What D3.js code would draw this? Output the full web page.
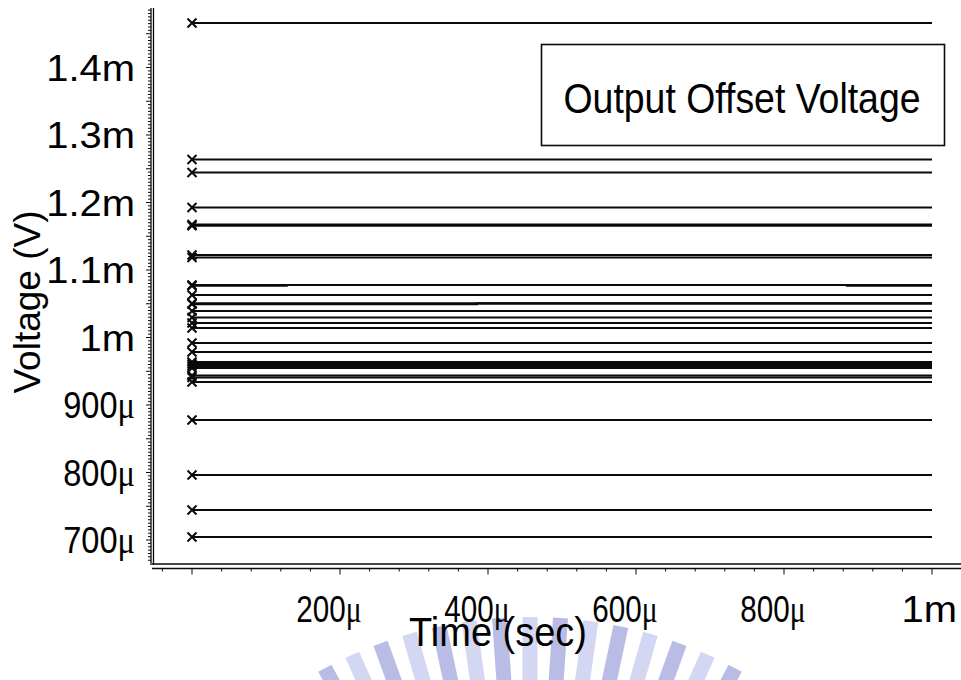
<!DOCTYPE html>
<html><head><meta charset="utf-8">
<script src="https://cdn.jsdelivr.net/npm/d3@7"></script>
<style>body{margin:0;background:#fff} svg{display:block}</style>
</head><body><svg id="c" width="961" height="680"></svg>
<script>
// ---------- data ----------
const timeTickValues = [200e-6, 400e-6, 600e-6, 800e-6, 1e-3];
const timeTickLabels = ["200μ", "400μ", "600μ", "800μ", "1m"];
const voltTickValues = [700e-6, 800e-6, 900e-6, 1.0e-3, 1.1e-3, 1.2e-3, 1.3e-3, 1.4e-3];
const voltTickLabels = ["700μ", "800μ", "900μ", "1m", "1.1m", "1.2m", "1.3m", "1.4m"];
// constant output offsets of the Monte Carlo runs (μV)
const flatOffsets = [1465.9, 1263.7, 1244.4, 1192.6, 1167.4, 1165.6, 1122.2, 1118.5,
  1077.8, 1063.0, 1050.6, 1039.3, 1029.6, 1021.5, 1014.1, 991.9, 978.5,
  963.7, 960.7, 957.8, 954.8, 943.7, 940.7, 934.1, 877.8, 796.3, 744.4, 704.4];
// runs with a small step (time in μs, value in μV)
const stepTimesA = [0, 128, 128, 885, 885, 1000];
const stepValuesA = [1076.6, 1076.6, 1077.8, 1077.8, 1076.8, 1076.8];
const stepTimesB = [0, 385, 385, 1000];
const stepValuesB = [1049.4, 1049.4, 1050.6, 1050.6];
const tStart = 0, tEnd = 1000; // μs
const legendText = "Output Offset Voltage";

// ---------- build series ----------
const series = flatOffsets.map(v => [[tStart * 1e-6, v * 1e-6], [tEnd * 1e-6, v * 1e-6]]);
series.push(stepTimesA.map((t, i) => [t * 1e-6, stepValuesA[i] * 1e-6]));
series.push(stepTimesB.map((t, i) => [t * 1e-6, stepValuesB[i] * 1e-6]));

const svg = d3.select("#c");
const x = d3.scaleLinear().domain([0, 1e-3]).range([192, 932]);
const y = d3.scaleLinear().domain([700e-6, 1.4e-3]).range([540, 67.5]);

const ink = "#0a0a0a";
const sans = "'Liberation Sans', Arial, sans-serif";

// ---------- watermark ----------
const wm = svg.append("g");
const cx = 530, cy = 1054;
const angles = d3.range(-32, 33, 4.0);
angles.forEach((a, i) => {
  const w = 15;
  wm.append("rect")
    .attr("x", -w / 2).attr("y", -437).attr("width", w).attr("height", 80)
    .attr("fill", i % 2 ? "#b9bde6" : "#d4d7f1")
    .attr("transform", `translate(${cx},${cy}) rotate(${a})`);
});

// ---------- axes ----------
const yAxisX = 151;
const yTicksMinor = d3.range(670e-6, 1.49e-3, 5e-6);
const gy = svg.append("g");
gy.append("line").attr("x1", yAxisX).attr("x2", yAxisX).attr("y1", 8).attr("y2", 565)
  .attr("stroke", ink).attr("stroke-width", 1.3);
gy.append("line").attr("x1", yAxisX + 2.5).attr("x2", yAxisX + 2.5).attr("y1", 8).attr("y2", 565)
  .attr("stroke", ink).attr("stroke-width", 1.3);
gy.selectAll("line.t").data(yTicksMinor.filter(v => y(v) > 8 && y(v) < 563)).enter()
  .append("line").attr("class", "t")
  .attr("x1", yAxisX).attr("y1", d => y(d)).attr("y2", d => y(d))
  .attr("x2", d => {
    const k = Math.round(d * 1e6);
    return yAxisX - (k % 50 === 0 ? 5 : 3);
  })
  .attr("stroke", ink).attr("stroke-width", 1);

function muLabel(sel, label) {
  const parts = label.split("μ");
  sel.append("tspan").text(parts[0]);
  if (label.includes("μ")) sel.append("tspan").attr("font-family", "'Liberation Serif', serif").text("μ");
}
voltTickValues.forEach((v, i) => {
  const lab = voltTickLabels[i];
  const sx = lab.includes("μ") ? 0.88 : 1.08;
  const t = svg.append("text")
    .attr("transform", `translate(${yAxisX - 16},${y(v) + 13}) scale(${sx},1)`)
    .attr("text-anchor", "end").attr("font-family", sans).attr("font-size", 37).attr("fill", "#000");
  muLabel(t, lab);
});

// x axis (bottom)
const frameY = 564, xAxisY = 568.5;
svg.append("line").attr("x1", 152).attr("x2", 961).attr("y1", frameY).attr("y2", frameY)
  .attr("stroke", ink).attr("stroke-width", 1.3);
svg.append("line").attr("x1", 152).attr("x2", 961).attr("y1", xAxisY).attr("y2", xAxisY)
  .attr("stroke", ink).attr("stroke-width", 1.3);
const xTicks = d3.range(-40e-6, 1.04e-3, 40e-6);
svg.selectAll("line.xt").data(xTicks).enter().append("line").attr("class", "xt")
  .attr("x1", d => x(d)).attr("x2", d => x(d)).attr("y1", xAxisY)
  .attr("y2", d => xAxisY + (Math.round(d * 1e6) % 200 === 0 ? 6 : 3))
  .attr("stroke", ink).attr("stroke-width", 1);
timeTickValues.forEach((v, i) => {
  const lab = timeTickLabels[i];
  const isMu = lab.includes("μ");
  const t = svg.append("text")
    .attr("transform", `translate(${isMu ? x(v) - 11 : x(v) + 25},622) scale(${isMu ? 0.8 : 1.08},1)`)
    .attr("text-anchor", isMu ? "middle" : "end").attr("font-family", sans).attr("font-size", 37).attr("fill", "#000");
  muLabel(t, lab);
});

// axis titles
svg.append("text").attr("transform", "translate(498,646) scale(0.95,1)")
  .attr("text-anchor", "middle").attr("font-family", sans).attr("font-size", 40)
  .attr("fill", "#000").text("Time (sec)");
svg.append("text").attr("transform", "translate(40,302) rotate(-90)")
  .attr("text-anchor", "middle").attr("font-family", sans).attr("font-size", 37)
  .attr("fill", "#000").text("Voltage (V)");

// ---------- series ----------
const line = d3.line().x(d => x(d[0])).y(d => y(d[1]));
svg.append("g").selectAll("path").data(series).enter().append("path")
  .attr("d", line).attr("fill", "none").attr("stroke", ink).attr("stroke-width", 2.1);
const m = 4.5;
svg.append("g").selectAll("path").data(series).enter().append("path")
  .attr("d", d => {
    const px = x(d[0][0]), py = y(d[0][1]);
    return `M${px - m},${py - m}L${px + m},${py + m}M${px - m},${py + m}L${px + m},${py - m}`;
  })
  .attr("stroke", ink).attr("stroke-width", 2).attr("fill", "none");

// ---------- legend ----------
svg.append("rect").attr("x", 541.5).attr("y", 44.5).attr("width", 403).attr("height", 101)
  .attr("fill", "#fff").attr("stroke", ink).attr("stroke-width", 1.6);
svg.append("text").attr("transform", "translate(742,113) scale(0.87,1)")
  .attr("text-anchor", "middle").attr("font-family", sans).attr("font-size", 43)
  .attr("fill", "#000").text(legendText);
</script></body></html>
